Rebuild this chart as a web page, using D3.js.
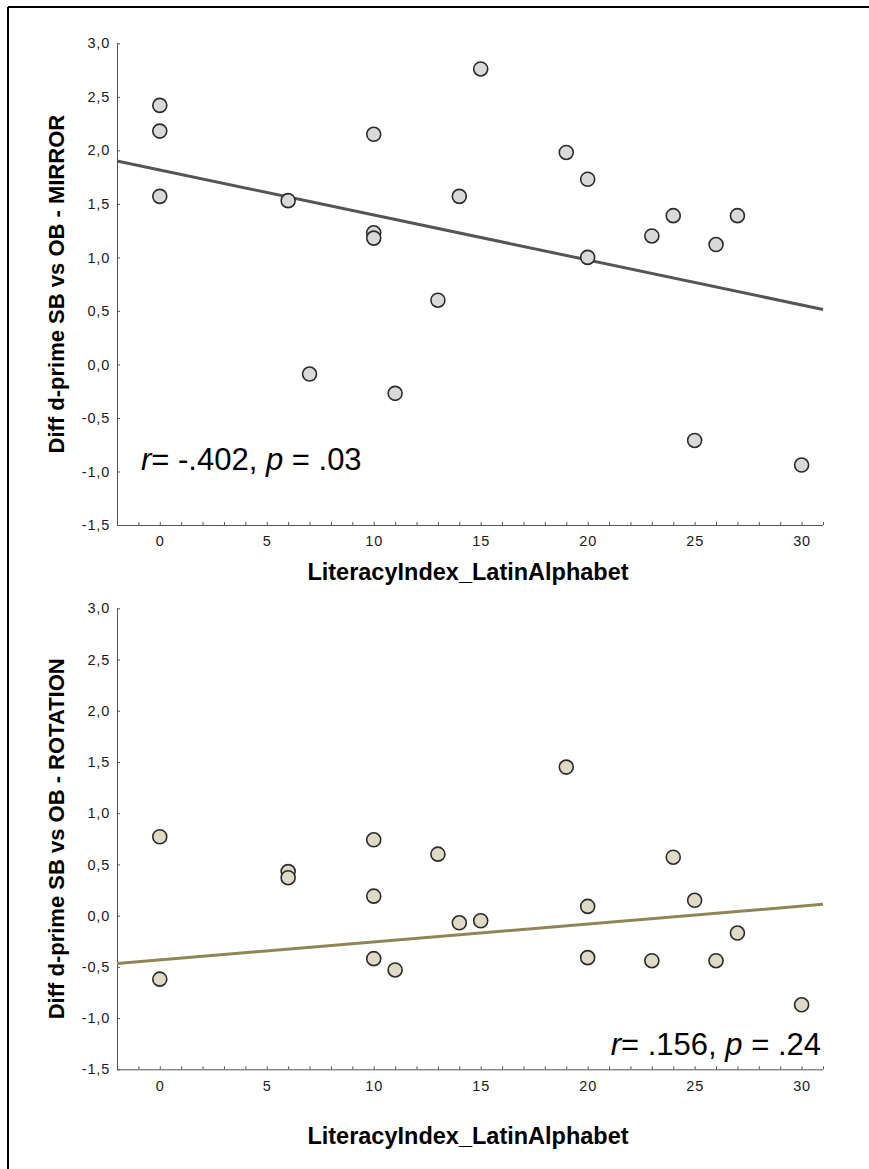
<!DOCTYPE html>
<html>
<head>
<meta charset="utf-8">
<script src="https://cdn.jsdelivr.net/npm/d3@7"></script>
<style>
  html, body { margin: 0; padding: 0; background: #fff; }
  svg { display: block; }
  text { font-family: Arial, "Liberation Sans", sans-serif; }
</style>
</head>
<body>
<script>
// ---- Data ----
const literacyMirror = [0, 0, 0, 6, 7, 10, 10, 10, 11, 13, 14, 15, 19, 20, 20, 23, 24, 25, 26, 27, 30];
const diffMirror     = [2.42, 2.18, 1.57, 1.53, -0.09, 2.15, 1.23, 1.18, -0.27, 0.60, 1.57, 2.76, 1.98, 1.73, 1.00, 1.20, 1.39, -0.71, 1.12, 1.39, -0.94];
const literacyRotation = [0, 0, 6, 6, 10, 10, 10, 11, 13, 14, 15, 19, 20, 20, 23, 24, 25, 26, 27, 30];
const diffRotation     = [0.77, -0.62, 0.43, 0.37, 0.74, 0.19, -0.42, -0.53, 0.60, -0.07, -0.05, 1.45, 0.09, -0.41, -0.44, 0.57, 0.15, -0.44, -0.17, -0.87];
// regression fits [intercept, slope]
const fitMirror   = [1.816, -0.042];
const fitRotation = [-0.432, 0.0175];
const xDomain = [-2, 31];
const yDomain = [-1.5, 3.0];
const yTicks = [-1.5, -1.0, -0.5, 0.0, 0.5, 1.0, 1.5, 2.0, 2.5, 3.0];
const xMajorTicks = [0, 5, 10, 15, 20, 25, 30];
const xLabel = "LiteracyIndex_LatinAlphabet";
const yLabels = ["Diff d-prime SB vs OB - MIRROR", "Diff d-prime SB vs OB - ROTATION"];
const statTexts = [
  [["r", true], ["= -.402, ", false], ["p", true], [" = .03", false]],
  [["r", true], ["= .156, ", false], ["p", true], [" = .24", false]]
];

const W = 869, H = 1169;
const svg = d3.select("body").append("svg").attr("width", W).attr("height", H);
svg.append("rect").attr("width", W).attr("height", H).attr("fill", "#fff");

// outer frame (cropped on right/bottom)
svg.append("line").attr("x1", 8).attr("x2", 8).attr("y1", 7).attr("y2", H).attr("stroke", "#000").attr("stroke-width", 2);
svg.append("line").attr("x1", 8).attr("x2", W).attr("y1", 7).attr("y2", 7).attr("stroke", "#000").attr("stroke-width", 2);

const locale = d3.formatLocale({decimal: ",", thousands: ".", grouping: [3], currency: ["", ""], minus: "-"});
const fmt = locale.format(".1f");

const panels = [
  {xs: literacyMirror, ys: diffMirror, fit: fitMirror, top: 43.3, bottom: 525, fill: "#d9d9d9", lineColor: "#555555",
   yLabel: yLabels[0], xTitleY: 580, stat: statTexts[0], statX: 141, statY: 470, statAnchor: "start"},
  {xs: literacyRotation, ys: diffRotation, fit: fitRotation, top: 608.3, bottom: 1069.3, fill: "#dedac6", lineColor: "#8e8654",
   yLabel: yLabels[1], xTitleY: 1144, stat: statTexts[1], statX: 821, statY: 1055, statAnchor: "end"}
];

const left = 117, right = 823;

panels.forEach(p => {
  const x = d3.scaleLinear().domain(xDomain).range([left, right]);
  const y = d3.scaleLinear().domain(yDomain).range([p.bottom, p.top]);
  const g = svg.append("g");

  // y axis
  const ya = g.append("g").attr("transform", `translate(${left},0)`)
    .call(d3.axisLeft(y).tickValues(yTicks).tickFormat(fmt).tickSize(-3).tickPadding(7));
  ya.select(".domain").attr("stroke", "#555").attr("d", `M0.5,${y(3.0)}V${p.bottom}`);
  ya.selectAll(".tick line").attr("stroke", "#555");
  ya.selectAll(".tick text").attr("font-size", 14.5).attr("letter-spacing", 0.8).attr("fill", "#1a1a1a")
    .attr("font-family", "Arial, 'Liberation Sans', sans-serif");

  // x axis
  const xa = g.append("g").attr("transform", `translate(0,${p.bottom})`)
    .call(d3.axisBottom(x).tickValues(d3.range(xDomain[0], xDomain[1] + 1))
      .tickFormat(d => xMajorTicks.includes(d) ? String(d) : "")
      .tickSize(-3).tickPadding(11));
  xa.select(".domain").attr("stroke", "#555").attr("d", `M${left},0.5H${right}`);
  xa.selectAll(".tick line").attr("stroke", "#555");
  xa.selectAll(".tick text").attr("font-size", 14.5).attr("letter-spacing", 0.8).attr("fill", "#1a1a1a")
    .attr("font-family", "Arial, 'Liberation Sans', sans-serif");

  // regression line
  const line = d3.line().x(d => x(d)).y(d => y(p.fit[0] + p.fit[1] * d));
  g.append("path").datum(xDomain).attr("d", line)
    .attr("fill", "none").attr("stroke", p.lineColor).attr("stroke-width", 3);

  // points
  g.selectAll("circle.pt").data(p.xs.map((v, i) => [v, p.ys[i]])).join("circle")
    .attr("class", "pt")
    .attr("cx", d => x(d[0])).attr("cy", d => y(d[1])).attr("r", 7)
    .attr("fill", p.fill).attr("stroke", "#2a2a2a").attr("stroke-width", 1.6);

  // axis titles
  g.append("text").attr("x", 468).attr("y", p.xTitleY).attr("text-anchor", "middle")
    .attr("font-size", 23.5).attr("font-weight", "bold").attr("fill", "#000").text(xLabel);
  g.append("text").attr("transform", `translate(64,${(p.top + p.bottom) / 2}) rotate(-90)`)
    .attr("text-anchor", "middle").attr("font-size", 22).attr("font-weight", "bold").attr("fill", "#000")
    .text(p.yLabel);

  // stat annotation
  const st = g.append("text").attr("x", p.statX).attr("y", p.statY).attr("text-anchor", p.statAnchor)
    .attr("font-size", 31).attr("fill", "#000");
  p.stat.forEach(([t, it]) => st.append("tspan").attr("font-style", it ? "italic" : "normal").text(t));
});
</script>
</body>
</html>
